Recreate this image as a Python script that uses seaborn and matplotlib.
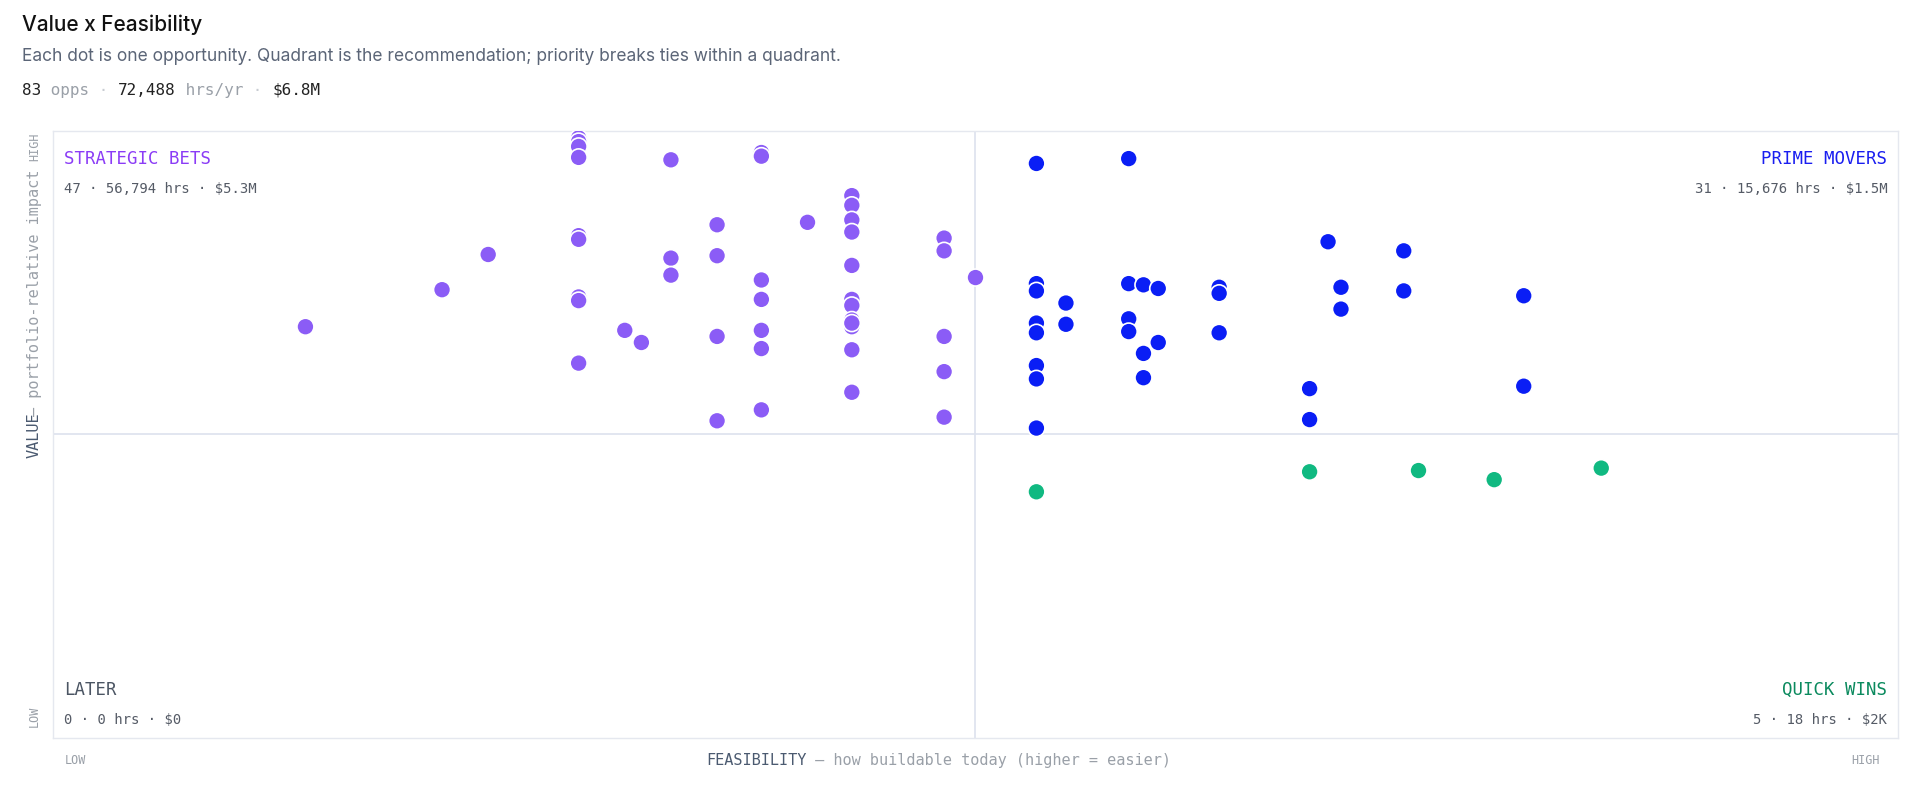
import matplotlib
matplotlib.use("Agg")
import matplotlib.pyplot as plt
import seaborn as sns
import pandas as pd

# display-pixel readings converted to 0-10 scales
def fx(p): return (p - 43) / 1509 * 10
def fy(p): return (603 - p) / 496 * 10

strategic_px = [(473,113),(473,116),(473,120),(473,129),(548,131),(623,125),(623,128),(697,160),(697,168),(660,182),
    (586,184),(697,180),(697,190),(473,193),(473,196),(399,208),(548,211),(586,209),(772,195),(772,205),
    (697,217),(548,225),(361,237),(623,229),(797,227),(473,243),(473,246),(623,245),(697,245),(697,250),
    (249,267),(511,270),(524,280),(586,275),(623,270),(697,262),(697,267),(772,275),(623,285),(697,286),
    (473,297),(772,304),(697,321),(623,335),(586,344),(772,341),(697,264)]
prime_px = [(847,134),(922,130),(1085,198),(1147,205),(847,232),(847,238),(922,232),(935,233),(947,236),(997,235),
    (997,240),(1097,235),(1147,238),(1246,242),(872,248),(1097,253),(847,264),(872,265),(922,261),(922,271),
    (847,272),(997,272),(947,280),(935,289),(847,299),(847,310),(935,309),(1071,318),(1246,316),(1071,343),(847,350)]
quick_px = [(847,402),(1071,386),(1159,385),(1221,392),(1309,383)]

strategic_x = [round(fx(a), 2) for a, b in strategic_px]
strategic_y = [round(fy(b), 2) for a, b in strategic_px]
prime_x = [round(fx(a), 2) for a, b in prime_px]
prime_y = [round(fy(b), 2) for a, b in prime_px]
quick_x = [round(fx(a), 2) for a, b in quick_px]
quick_y = [round(fy(b), 2) for a, b in quick_px]

colors = {"Strategic": "#8b5cf6", "Prime": "#0a1ef5", "Quick": "#10b981"}
df = pd.concat([
    pd.DataFrame({"x": strategic_x, "y": strategic_y, "q": "Strategic"}),
    pd.DataFrame({"x": prime_x, "y": prime_y, "q": "Prime"}),
    pd.DataFrame({"x": quick_x, "y": quick_y, "q": "Quick"}),
])

sns.set_theme(style="white")
plt.rcParams['font.family'] = ['Inter', 'DejaVu Sans']
MONO = 'DejaVu Sans Mono'

fig = plt.figure(figsize=(19.18, 7.92), dpi=100)
ax = fig.add_axes([0.0274, 0.0687, 0.9624, 0.7663])
sns.scatterplot(data=df, x="x", y="y", hue="q", palette=colors, s=150,
                edgecolor="white", linewidth=1.2, legend=False, ax=ax, zorder=3)
ax.set_xlim(0, 10); ax.set_ylim(0, 10)
ax.set_xticks([]); ax.set_yticks([])
ax.set_xlabel(""); ax.set_ylabel("")
for s in ax.spines.values():
    s.set_color("#e5e8ef"); s.set_linewidth(1)
ax.axvline(5, color="#dde2ee", lw=1.2, zorder=1)
ax.axhline(5, color="#dde2ee", lw=1.2, zorder=1)

def quad(x, y, name, col, stats, ha):
    ax.text(x, y, name, transform=ax.transAxes, ha=ha, va="center", fontsize=12.5, color=col, family=MONO)
    ax.text(x, y - 0.05, stats, transform=ax.transAxes, ha=ha, va="center", fontsize=10, color="#555b66", family=MONO)
quad(0.006, 0.954, "STRATEGIC BETS", "#8b3cf6", "47 · 56,794 hrs · $5.3M", "left")
quad(0.994, 0.954, "PRIME MOVERS", "#1a1ef0", "31 · 15,676 hrs · $1.5M", "right")
quad(0.006, 0.079, "LATER", "#4b5563", "0 · 0 hrs · $0", "left")
quad(0.994, 0.079, "QUICK WINS", "#0b8a5e", "5 · 18 hrs · $2K", "right")

fig.text(0.0115, 0.969, "Value x Feasibility", fontsize=15, color="#111111", va="center", weight="medium")
fig.text(0.0115, 0.929, "Each dot is one opportunity. Quadrant is the recommendation; priority breaks ties within a quadrant.",
         fontsize=12.5, color="#5b6577", va="center")
parts = [("83", "#222222"), (" opps", "#9aa0a8"), (" · ", "#c8ccd2"), ("72,488", "#222222"),
         (" hrs/yr", "#9aa0a8"), (" · ", "#c8ccd2"), ("$6.8M", "#222222")]
prev = fig.text(0.0115, 0.886, parts[0][0], fontsize=11.5, color=parts[0][1], va="center", family=MONO)
for t, c in parts[1:]:
    prev = fig.text(0, 0, t, fontsize=11.5, color=c, family=MONO, va="bottom", ha="left",
                    transform=matplotlib.transforms.offset_copy(prev.get_transform(), fig=fig), alpha=0)
# re-place with annotate chaining
for t in fig.texts[3:]:
    t.remove()
prev = fig.texts[-1]
for t, c in parts[1:]:
    prev = fig.text(0, 0, "") if False else plt.annotate(t, xy=(1, 0), xycoords=prev, va="bottom", ha="left",
                    fontsize=11.5, color=c, family=MONO, annotation_clip=False)

fig.text(0.018, 0.815, "HIGH", rotation=90, fontsize=8.5, color="#9aa0a8", family=MONO, ha="center", va="center")
fig.text(0.018, 0.095, "LOW", rotation=90, fontsize=8.5, color="#9aa0a8", family=MONO, ha="center", va="center")
fig.text(0.018, 0.45, "VALUE", rotation=90, fontsize=11, color="#4b5a70", family=MONO, ha="center", va="center",
         )
fig.text(0.018, 0.63, "— portfolio-relative impact", rotation=90, fontsize=11, color="#9aa0a8", family=MONO,
         ha="center", va="center")
fig.text(0.034, 0.040, "LOW", fontsize=8.5, color="#9aa0a8", family=MONO, va="center")
fig.text(0.98, 0.040, "HIGH", fontsize=8.5, color="#9aa0a8", family=MONO, va="center", ha="right")
x_lab = fig.text(0.368, 0.040, "FEASIBILITY", fontsize=11, color="#4b5a70", family=MONO, va="center")
plt.annotate(" — how buildable today (higher = easier)", xy=(1, 0), xycoords=x_lab, va="bottom",
             fontsize=11, color="#9aa0a8", family=MONO, annotation_clip=False)

fig.savefig("out.png", dpi=100, facecolor="white")
